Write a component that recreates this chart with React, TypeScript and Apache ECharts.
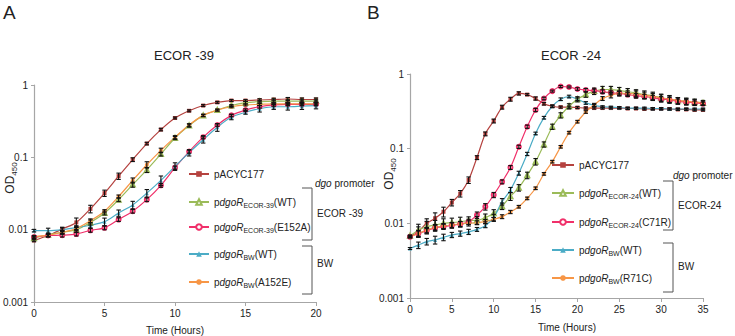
import React, { useEffect, useRef } from "react";
import * as echarts from "echarts";

// ---------------- data ----------------
const hoursA = [0, 1, 2, 3, 4, 5, 6, 7, 8, 9, 10, 11, 12, 13, 14, 15, 16, 17, 18, 19, 20];
const hoursB = [0, 1, 2, 3, 4, 5, 6, 7, 8, 9, 10, 11, 12, 13, 14, 15, 16, 17, 18, 19, 20, 21, 22, 23, 24, 25, 26, 27, 28, 29, 30, 31, 32, 33, 34, 35];
const xTicksA = [0, 5, 10, 15, 20];
const xTicksB = [0, 5, 10, 15, 20, 25, 30, 35];
const yTickLabels = ["0.001", "0.01", "0.1", "1"];

// Panel A (ECOR-39), OD450
const A_pACYC = [0.0071, 0.0083, 0.0102, 0.0126, 0.0194, 0.032, 0.055, 0.093, 0.155, 0.242, 0.35, 0.44, 0.52, 0.575, 0.61, 0.61, 0.62, 0.63, 0.64, 0.63, 0.63];
const A_ecorWT = [0.0076, 0.0085, 0.0092, 0.010, 0.0126, 0.017, 0.026, 0.042, 0.067, 0.111, 0.185, 0.275, 0.38, 0.45, 0.52, 0.57, 0.59, 0.6, 0.6, 0.6, 0.6];
const A_ecorMut = [0.0079, 0.0083, 0.0084, 0.0087, 0.0098, 0.0106, 0.0138, 0.018, 0.026, 0.041, 0.072, 0.12, 0.19, 0.28, 0.38, 0.45, 0.5, 0.53, 0.54, 0.54, 0.54];
const A_bwWT = [0.0097, 0.0097, 0.0100, 0.0107, 0.0115, 0.0129, 0.017, 0.022, 0.032, 0.048, 0.075, 0.116, 0.175, 0.26, 0.36, 0.42, 0.47, 0.5, 0.5, 0.51, 0.52];
const A_bwMut = [0.008, 0.0084, 0.0092, 0.0104, 0.0133, 0.018, 0.0287, 0.048, 0.079, 0.125, 0.19, 0.28, 0.38, 0.45, 0.5, 0.53, 0.54, 0.55, 0.55, 0.55, 0.55];

// relative error (half-range) for panel A
const errA_pACYC = [0.04, 0.05, 0.06, 0.15, 0.12, 0.1, 0.1, 0.06, 0.04, 0.04, 0.03, 0.03, 0.03, 0.03, 0.03, 0.03, 0.04, 0.04, 0.05, 0.05, 0.05];
const errA_ecorWT = [0.05, 0.05, 0.06, 0.08, 0.08, 0.06, 0.06, 0.08, 0.08, 0.06, 0.05, 0.05, 0.04, 0.03, 0.03, 0.04, 0.04, 0.04, 0.04, 0.04, 0.04];
const errA_ecorMut = [0.04, 0.04, 0.06, 0.06, 0.06, 0.06, 0.06, 0.06, 0.06, 0.06, 0.05, 0.05, 0.05, 0.04, 0.04, 0.04, 0.04, 0.04, 0.04, 0.04, 0.04];
const errA_bwWT = [0.04, 0.08, 0.06, 0.06, 0.08, 0.12, 0.1, 0.12, 0.12, 0.15, 0.12, 0.1, 0.1, 0.12, 0.08, 0.06, 0.1, 0.08, 0.1, 0.1, 0.1];
const errA_bwMut = [0.04, 0.04, 0.05, 0.06, 0.06, 0.05, 0.05, 0.08, 0.1, 0.07, 0.05, 0.04, 0.03, 0.03, 0.03, 0.03, 0.03, 0.03, 0.03, 0.03, 0.03];

// Panel B (ECOR-24), OD450
const B_pACYC = [0.0066, 0.0078, 0.0100, 0.0117, 0.0143, 0.019, 0.025, 0.038, 0.076, 0.158, 0.235, 0.36, 0.46, 0.55, 0.53, 0.47, 0.40, 0.37, 0.36, 0.36, 0.355, 0.35, 0.35, 0.35, 0.35, 0.35, 0.345, 0.345, 0.34, 0.34, 0.34, 0.34, 0.335, 0.335, 0.33, 0.33];
const B_ecorWT = [0.0068, 0.0081, 0.0090, 0.0095, 0.0100, 0.0102, 0.0105, 0.0109, 0.0110, 0.0119, 0.0136, 0.017, 0.023, 0.030, 0.044, 0.067, 0.114, 0.197, 0.28, 0.37, 0.46, 0.53, 0.59, 0.62, 0.62, 0.6, 0.58, 0.56, 0.53, 0.51, 0.48, 0.46, 0.44, 0.43, 0.42, 0.41];
const B_ecorMut = [0.0066, 0.0073, 0.0080, 0.0087, 0.0090, 0.0094, 0.0098, 0.0105, 0.0129, 0.0167, 0.024, 0.036, 0.056, 0.106, 0.197, 0.33, 0.47, 0.59, 0.68, 0.67, 0.63, 0.61, 0.60, 0.58, 0.56, 0.55, 0.53, 0.51, 0.50, 0.48, 0.46, 0.45, 0.43, 0.42, 0.41, 0.40];
const B_bwWT = [0.0046, 0.0051, 0.0057, 0.0060, 0.0065, 0.0070, 0.0073, 0.0077, 0.0083, 0.0093, 0.012, 0.0195, 0.028, 0.047, 0.085, 0.16, 0.26, 0.37, 0.46, 0.50, 0.46, 0.41, 0.38, 0.365, 0.36, 0.355, 0.35, 0.35, 0.35, 0.345, 0.345, 0.34, 0.34, 0.34, 0.34, 0.34];
const B_bwMut = [0.0066, 0.0073, 0.0081, 0.0088, 0.0092, 0.0095, 0.0098, 0.0100, 0.0102, 0.0106, 0.0113, 0.0123, 0.0142, 0.0167, 0.0216, 0.0295, 0.046, 0.067, 0.106, 0.164, 0.23, 0.31, 0.385, 0.47, 0.52, 0.55, 0.55, 0.54, 0.52, 0.5, 0.48, 0.46, 0.44, 0.43, 0.42, 0.41];

const errB_pACYC = [0.03, 0.15, 0.15, 0.18, 0.15, 0.1, 0.1, 0.1, 0.06, 0.06, 0.06, 0.06, 0.06, 0.05, 0.03, 0.05, 0.04, 0.03, 0.03, 0.03, 0.03, 0.03, 0.03, 0.03, 0.03, 0.03, 0.03, 0.03, 0.03, 0.03, 0.03, 0.03, 0.03, 0.03, 0.03, 0.03];
const errB_ecorWT = [0.03, 0.2, 0.18, 0.15, 0.15, 0.15, 0.15, 0.12, 0.12, 0.12, 0.12, 0.1, 0.12, 0.1, 0.1, 0.1, 0.08, 0.08, 0.08, 0.08, 0.08, 0.08, 0.1, 0.1, 0.1, 0.1, 0.1, 0.1, 0.12, 0.12, 0.12, 0.12, 0.1, 0.1, 0.1, 0.08];
const errB_ecorMut = [0.03, 0.1, 0.1, 0.1, 0.08, 0.08, 0.08, 0.08, 0.1, 0.1, 0.08, 0.06, 0.06, 0.05, 0.05, 0.05, 0.04, 0.03, 0.03, 0.03, 0.04, 0.05, 0.05, 0.06, 0.06, 0.06, 0.06, 0.07, 0.07, 0.08, 0.08, 0.08, 0.08, 0.08, 0.06, 0.05];
const errB_bwWT = [0.03, 0.1, 0.1, 0.12, 0.1, 0.08, 0.08, 0.08, 0.06, 0.06, 0.1, 0.1, 0.08, 0.06, 0.05, 0.04, 0.04, 0.04, 0.04, 0.04, 0.04, 0.04, 0.03, 0.03, 0.03, 0.03, 0.03, 0.03, 0.03, 0.03, 0.03, 0.03, 0.03, 0.03, 0.03, 0.03];
const errB_bwMut = [0.03, 0.08, 0.08, 0.08, 0.08, 0.08, 0.08, 0.08, 0.06, 0.06, 0.06, 0.06, 0.05, 0.04, 0.04, 0.04, 0.04, 0.04, 0.04, 0.04, 0.04, 0.04, 0.05, 0.06, 0.08, 0.08, 0.08, 0.1, 0.1, 0.1, 0.1, 0.1, 0.1, 0.1, 0.08, 0.06];

// legend labels (rich text)
const legendLabelsA = [
  "pACYC177",
  "p{i|dgoR}{sub|ECOR-39}(WT)",
  "p{i|dgoR}{sub|ECOR-39}(E152A)",
  "p{i|dgoR}{sub|BW}(WT)",
  "p{i|dgoR}{sub|BW}(A152E)",
];
const legendLabelsB = [
  "pACYC177",
  "p{i|dgoR}{sub|ECOR-24}(WT)",
  "p{i|dgoR}{sub|ECOR-24}(C71R)",
  "p{i|dgoR}{sub|BW}(WT)",
  "p{i|dgoR}{sub|BW}(R71C)",
];

// ---------------- styling ----------------
const FONT = "'Liberation Sans', Arial, sans-serif";
const COLORS = ["#b5423f", "#9bbb59", "#f0306a", "#4bacc6", "#f79646"];
const SYMBOLS = ["rect", "emptyTriangle", "emptyCircle", "triangle", "circle"];
const AXIS_GREY = "#a6a6a6";
const TEXT = "#222";

const richLegend = {
  i: { fontStyle: "italic", fontSize: 10, lineHeight: 14, color: TEXT, fontFamily: FONT },
  sub: { fontSize: 7, lineHeight: 8, verticalAlign: "bottom", color: TEXT, fontFamily: FONT },
};

export default function App() {
  const ref = useRef<HTMLDivElement>(null);

  useEffect(() => {
    document.body.style.margin = "0";
    if (!ref.current) return;
    const chart = echarts.init(ref.current, undefined, { renderer: "svg" });

    const panels = [
      {
        key: "A",
        hours: hoursA,
        values: [A_pACYC, A_ecorWT, A_ecorMut, A_bwWT, A_bwMut],
        errs: [errA_pACYC, errA_ecorWT, errA_ecorMut, errA_bwWT, errA_bwMut],
        labels: legendLabelsA,
        legendLeft: 188,
        legendIconW: 20,
        legendCenters: [174, 202, 227, 254, 282],
      },
      {
        key: "B",
        hours: hoursB,
        values: [B_pACYC, B_ecorWT, B_ecorMut, B_bwWT, B_bwMut],
        errs: [errB_pACYC, errB_ecorWT, errB_ecorMut, errB_bwWT, errB_bwMut],
        labels: legendLabelsB,
        legendLeft: 551,
        legendIconW: 22,
        legendCenters: [165, 193, 222, 250, 278],
      },
    ];

    const series: any[] = [];
    const legends: any[] = [];
    panels.forEach((p, pi) => {
      p.values.forEach((vals, si) => {
        const name = p.key + "-" + si;
        series.push({
          type: "line",
          name,
          xAxisIndex: pi,
          yAxisIndex: pi,
          data: vals.map((v, i) => [p.hours[i], v]),
          smooth: 0.3,
          symbol: SYMBOLS[si],
          symbolSize: 4,
          showSymbol: true,
          color: COLORS[si],
          lineStyle: { color: COLORS[si], width: 1.2 },
          itemStyle: { color: COLORS[si] },
          z: 2,
        });
        series.push({
          type: "custom",
          name: name + "-err",
          xAxisIndex: pi,
          yAxisIndex: pi,
          data: vals.map((v, i) => [p.hours[i], v * (1 - p.errs[si][i]), v * (1 + p.errs[si][i])]),
          encode: { x: 0, y: [1, 2] },
          z: 3,
          silent: true,
          renderItem: (params: any, api: any) => {
            const x = api.value(0);
            const lo = api.coord([x, api.value(1)]);
            const hi = api.coord([x, api.value(2)]);
            const w = 2.2;
            const st = { stroke: "#111", lineWidth: 1.1 };
            return {
              type: "group",
              children: [
                { type: "line", shape: { x1: lo[0], y1: lo[1], x2: hi[0], y2: hi[1] }, style: st },
                { type: "line", shape: { x1: lo[0] - w, y1: lo[1], x2: lo[0] + w, y2: lo[1] }, style: st },
                { type: "line", shape: { x1: hi[0] - w, y1: hi[1], x2: hi[0] + w, y2: hi[1] }, style: st },
              ],
            };
          },
        });
        legends.push({
          data: [name],
          left: p.legendLeft,
          top: p.legendCenters[si] - 7,
          orient: "vertical",
          padding: 0,
          itemWidth: p.legendIconW,
          itemHeight: 7,
          selectedMode: false,
          formatter: () => p.labels[si],
          textStyle: { fontSize: 10, lineHeight: 14, color: TEXT, fontFamily: FONT, rich: richLegend },
        });
      });
    });

    const axisCommonX = (max: number, ticks: number[]) => ({
      type: "value",
      min: ticks[0],
      max,
      interval: ticks[1] - ticks[0],
      axisLine: { show: true, lineStyle: { color: AXIS_GREY, width: 1.2 } },
      axisTick: { show: true, length: 4, lineStyle: { color: AXIS_GREY } },
      axisLabel: { fontSize: 10, color: TEXT, margin: 6, fontFamily: FONT },
      splitLine: { show: false },
    });
    const axisCommonY = () => ({
      type: "log",
      logBase: 10,
      min: 0.001,
      max: 1,
      axisLine: { show: true, lineStyle: { color: AXIS_GREY, width: 1.2 } },
      axisTick: { show: true, length: 3, lineStyle: { color: AXIS_GREY } },
      axisLabel: {
        fontSize: 10,
        color: TEXT,
        margin: 6,
        fontFamily: FONT,
        formatter: (v: number) => yTickLabels[Math.round(Math.log10(v)) + 3],
      },
      splitLine: { show: false },
      minorTick: { show: false },
    });

    const bracket = (x: number, y1: number, y2: number) => ({
      type: "polyline",
      shape: { points: [[x - 10, y1], [x, y1], [x, y2], [x - 10, y2]] },
      style: { stroke: "#555", lineWidth: 1, fill: "none" },
      silent: true,
    });
    const txt = (x: number, y: number, text: string, size: number, extra: any = {}) => ({
      type: "text",
      x,
      y,
      silent: true,
      style: {
        text,
        fontSize: size,
        fontFamily: FONT,
        fill: TEXT,
        align: "left",
        verticalAlign: "middle",
        ...extra,
      },
    });
    const odLabel = (x: number, y: number) => ({
      type: "text",
      x,
      y,
      rotation: Math.PI / 2,
      silent: true,
      style: {
        text: "OD{s|450}",
        fontSize: 12,
        fontFamily: FONT,
        fill: TEXT,
        align: "center",
        verticalAlign: "middle",
        lineHeight: 16,
        rich: {
          s: { fontSize: 8, lineHeight: 9, verticalAlign: "bottom", fill: TEXT, fontFamily: FONT },
        },
      },
    });
    const dgoText = (x: number, y: number) => ({
      type: "text",
      x,
      y,
      silent: true,
      style: {
        text: "{i|dgo} promoter",
        fontSize: 10,
        fontFamily: FONT,
        fill: TEXT,
        align: "left",
        verticalAlign: "middle",
        rich: { i: { fontStyle: "italic", fontSize: 10, fontFamily: FONT, fill: TEXT } },
      },
    });

    const option: any = {
      animation: false,
      textStyle: { fontFamily: FONT },
      grid: [
        { left: 34, top: 85, width: 282, height: 217 },
        { left: 410, top: 74, width: 293, height: 224 },
      ],
      xAxis: [
        { gridIndex: 0, ...axisCommonX(20, xTicksA) },
        { gridIndex: 1, ...axisCommonX(35, xTicksB) },
      ],
      yAxis: [
        { gridIndex: 0, ...axisCommonY() },
        { gridIndex: 1, ...axisCommonY() },
      ],
      legend: legends,
      series,
      graphic: [
        txt(3, 12, "A", 19),
        txt(367, 12, "B", 19),
        txt(184, 55, "ECOR -39", 13, { align: "center" }),
        txt(571, 55, "ECOR -24", 13, { align: "center" }),
        odLabel(10, 178),
        odLabel(389, 174),
        txt(175, 330, "Time (Hours)", 10, { align: "center" }),
        txt(567, 327, "Time (Hours)", 10, { align: "center" }),
        dgoText(315, 183),
        bracket(312, 188, 240),
        bracket(312, 246, 294),
        txt(317, 213, "ECOR -39", 10),
        txt(317, 263, "BW", 10),
        dgoText(673, 175),
        bracket(673, 181, 230),
        bracket(673, 243, 292),
        txt(678, 205, "ECOR-24", 10),
        txt(678, 266, "BW", 10),
      ],
    };

    chart.setOption(option);
    return () => chart.dispose();
  }, []);

  return <div ref={ref} style={{ width: 735, height: 336 }} />;
}
